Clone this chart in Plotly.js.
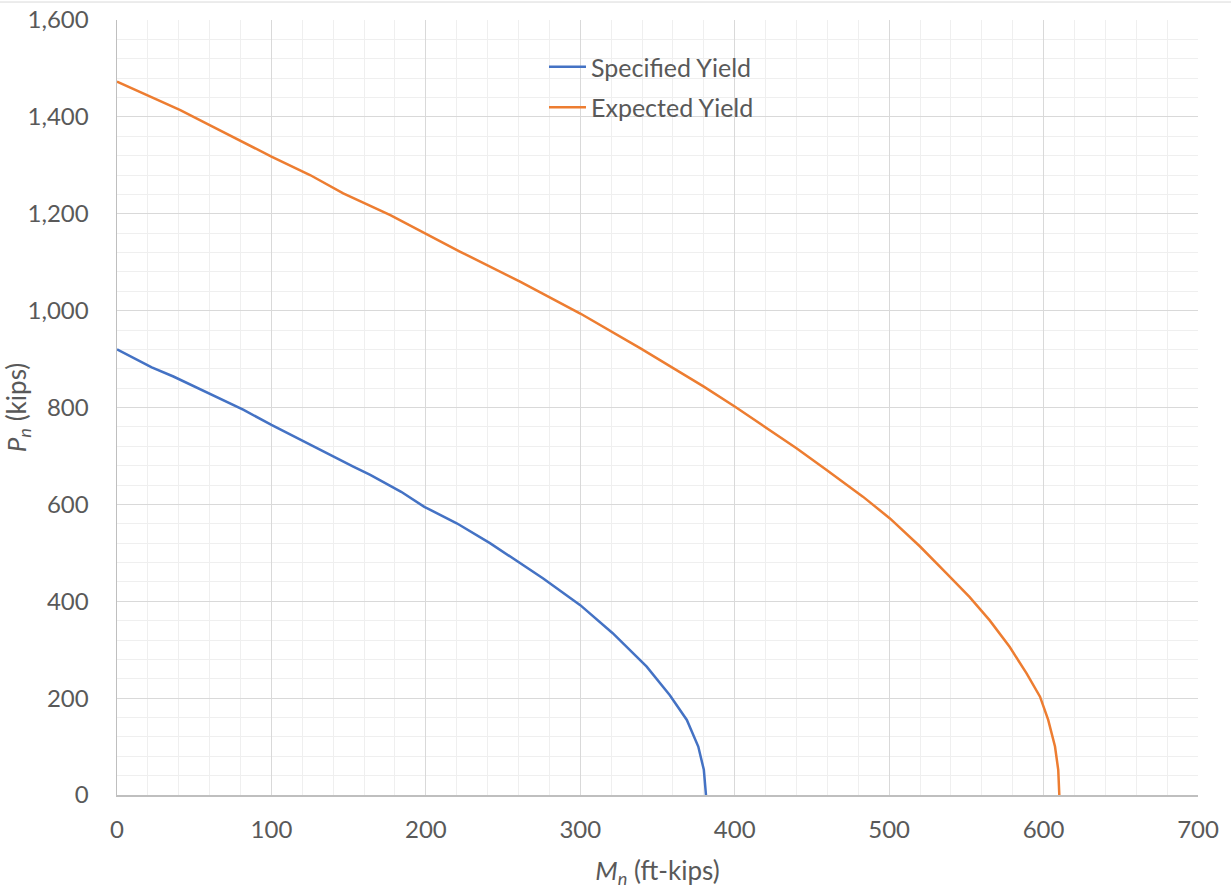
<!DOCTYPE html>
<html>
<head>
<meta charset="utf-8">
<script src="https://cdn.plot.ly/plotly-3.0.1.min.js"></script>
<style>
  html, body { margin: 0; padding: 0; background: #ffffff; }
  #chart { width: 1231px; height: 890px; }
</style>
</head>
<body>
<div id="chart"></div>
<script>
// Axial-moment interaction curves (Pn vs Mn)
const seriesNames = ["Specified Yield", "Expected Yield"];

const specifiedMn = [0, 22.5, 36.5, 60, 82, 100, 125, 153, 164, 184, 199, 220, 241.5, 254.5, 276, 300, 321, 343, 358, 369, 376.4, 380, 381.4];
const specifiedPn = [920, 883, 864, 829, 795, 764, 723, 678, 661, 626, 595, 561, 520, 492, 447, 392, 334, 265, 206, 155, 100, 52, 0];

const expectedMn = [0, 19, 41, 60, 100, 125, 146.5, 177, 199.4, 222, 261, 300, 339, 380, 400, 421, 440, 459.5, 483, 500.5, 520, 537, 552, 565, 578, 589, 597.7, 603, 607.4, 609.5, 610.2];
const expectedPn = [1473, 1445, 1414, 1383, 1318, 1280, 1242, 1197, 1160, 1122, 1060, 994, 922, 843, 802, 757, 716, 671, 616, 571, 513, 458, 409, 361, 306, 251, 203, 155, 100, 52, 0];

const xTickVals = [0, 100, 200, 300, 400, 500, 600, 700];
const yTickVals = [0, 200, 400, 600, 800, 1000, 1200, 1400, 1600];
const yTickText = ["0", "200", "400", "600", "800", "1,000", "1,200", "1,400", "1,600"];

const textColor = "#595959";
const fontFamily = "Lato, 'Open Sans', sans-serif";

const traces = [
  {
    x: specifiedMn, y: specifiedPn, name: seriesNames[0], legendgroup: "a",
    type: "scatter", mode: "lines",
    line: { color: "#4472C4", width: 2.5 }
  },
  {
    x: expectedMn, y: expectedPn, name: seriesNames[1], legendgroup: "b",
    type: "scatter", mode: "lines",
    line: { color: "#ED7D31", width: 2.5 }
  }
];

const layout = {
  width: 1231, height: 890,
  margin: { l: 117, r: 33, t: 20, b: 95 },
  paper_bgcolor: "#ffffff",
  plot_bgcolor: "#ffffff",
  font: { family: fontFamily, color: textColor, size: 24 },
  showlegend: true,
  legend: {
    x: 0.395, y: 0.969, xanchor: "left", yanchor: "top",
    bgcolor: "rgba(255,255,255,0)",
    font: { family: fontFamily, size: 25, color: textColor },
    itemwidth: 37,
    tracegroupgap: 5
  },
  xaxis: {
    range: [0, 700],
    tickvals: xTickVals,
    ticktext: xTickVals.map(String),
    ticks: "", ticklabelstandoff: 13,
    tickfont: { family: fontFamily, size: 24, color: textColor },
    showgrid: true, gridcolor: "#d9d9d9", gridwidth: 1,
    minor: { dtick: 20, showgrid: true, gridcolor: "#efefef", gridwidth: 1 },
    showline: true, linecolor: "#bfbfbf", linewidth: 1.5,
    zeroline: false,
    title: { text: "<i>M</i><sub><i>n</i></sub> (ft-kips)", font: { family: fontFamily, size: 26, color: textColor }, standoff: 19 }
  },
  yaxis: {
    range: [0, 1600],
    tickvals: yTickVals,
    ticktext: yTickText,
    ticks: "", ticklabelstandoff: 22,
    tickfont: { family: fontFamily, size: 24, color: textColor },
    showgrid: true, gridcolor: "#d9d9d9", gridwidth: 1,
    minor: { dtick: 40, showgrid: true, gridcolor: "#efefef", gridwidth: 1 },
    showline: true, linecolor: "#bfbfbf", linewidth: 1.5,
    zeroline: false,
    title: { text: "<i>P</i><sub><i>n</i></sub> (kips)", font: { family: fontFamily, size: 26, color: textColor }, standoff: 7 }
  },
  shapes: [
    {
      type: "line", xref: "paper", yref: "paper",
      x0: -0.2, x1: 1.1, y0: 1.0232, y1: 1.0232,
      line: { color: "#d9d9d9", width: 1 }
    }
  ]
};

Plotly.newPlot("chart", traces, layout, { displayModeBar: false, staticPlot: true });
</script>
</body>
</html>
